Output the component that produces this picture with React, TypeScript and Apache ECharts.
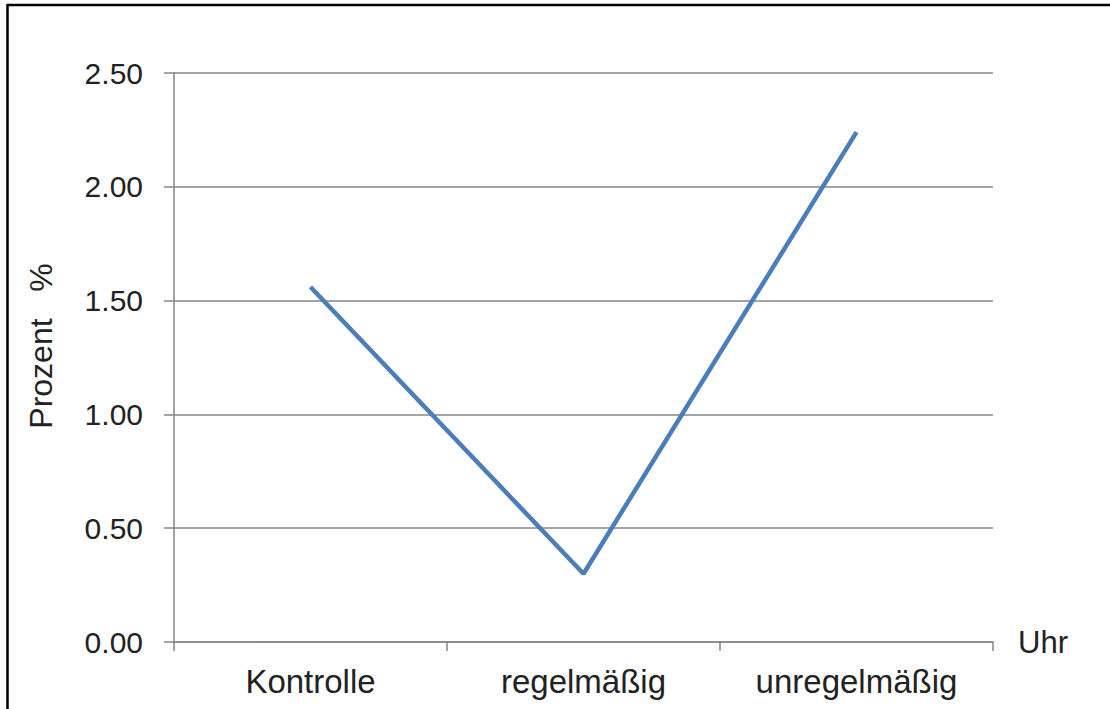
import React, { useEffect, useRef } from "react";
import * as echarts from "echarts";

const categories = ["Kontrolle", "regelmäßig", "unregelmäßig"];
const values = [1.56, 0.3, 2.24];
const yName = "Prozent   %";
const xName = "Uhr";

export default function App() {
  const ref = useRef<HTMLDivElement>(null);
  useEffect(() => {
    const chart = echarts.init(ref.current!, null, { renderer: "svg" });
    const font = "'Liberation Sans', Arial, sans-serif";
    const axisColor = "#868686";
    const textColor = "#222222";
    chart.setOption({
      animation: false,
      backgroundColor: "#ffffff",
      grid: { left: 174, right: 117, top: 73, bottom: 67 },
      xAxis: {
        type: "category",
        data: categories,
        boundaryGap: true,
        name: xName,
        nameLocation: "end",
        nameGap: 25,
        nameTextStyle: { fontFamily: font, fontSize: 31, color: textColor, verticalAlign: "middle" },
        axisLine: { show: true, lineStyle: { color: axisColor, width: 1.5 } },
        axisTick: { show: true, length: 9, alignWithLabel: false, lineStyle: { color: axisColor, width: 1.5 } },
        axisLabel: { margin: 23, fontFamily: font, fontSize: 33, color: textColor },
        splitLine: { show: false },
      },
      yAxis: {
        type: "value",
        min: 0,
        max: 2.5,
        interval: 0.5,
        axisLine: { show: true, lineStyle: { color: axisColor, width: 1.5 } },
        axisTick: { show: true, length: 10, lineStyle: { color: axisColor, width: 1.5 } },
        axisLabel: {
          margin: 31,
          fontFamily: font,
          fontSize: 30,
          color: textColor,
          formatter: (v: number) => v.toFixed(2),
        },
        splitLine: { show: true, lineStyle: { color: axisColor, width: 1.5 } },
      },
      series: [
        {
          type: "line",
          data: values,
          symbol: "none",
          lineStyle: { color: "#4a7ebb", width: 4.5 },
        },
      ],
      graphic: [
        {
          type: "text",
          x: 41,
          y: 346,
          rotation: Math.PI / 2,
          style: {
            text: yName,
            fontFamily: font,
            fontSize: 32,
            fill: textColor,
            align: "center",
            verticalAlign: "middle",
          },
        },
        {
          type: "line",
          shape: { x1: 7, y1: 5, x2: 1110, y2: 5 },
          style: { stroke: "#000", lineWidth: 2.5 },
        },
        {
          type: "line",
          shape: { x1: 7.5, y1: 4, x2: 7.5, y2: 709 },
          style: { stroke: "#000", lineWidth: 2.5 },
        },
      ],
    });
    return () => chart.dispose();
  }, []);
  return (
    <div
      ref={ref}
      style={{ position: "fixed", left: 0, top: 0, width: 1110, height: 709 }}
    />
  );
}
